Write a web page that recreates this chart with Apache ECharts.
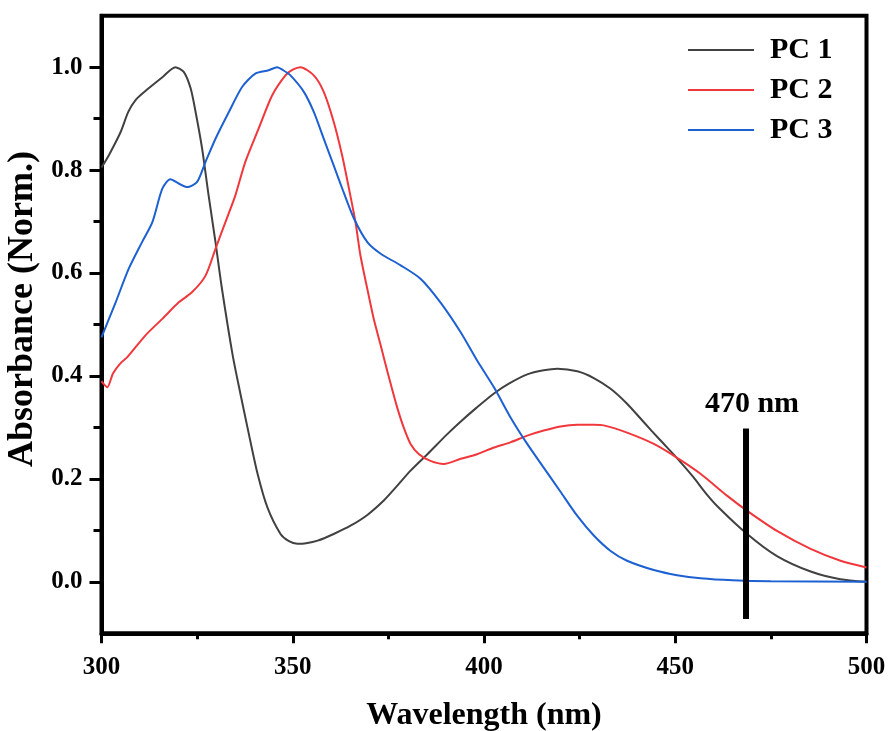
<!DOCTYPE html>
<html>
<head>
    <meta charset="utf-8">
    <title>Absorbance PC 1-3</title>
    <script src="https://cdn.jsdelivr.net/npm/echarts@6/dist/echarts.min.js"></script>
    <style>
        html, body { margin: 0; padding: 0; background: #fff; }
        #chart { width: 888px; height: 731px; }
    </style>
</head>
<body>
    <div id="chart"></div>
    <script type="text/javascript">
        // PC 1 (gray)
        const pc1Wl = [300, 302, 305, 307, 309, 312, 316, 319.3, 321.5, 323.3, 324.6, 326.3, 328, 329.8, 331.5,
            334.3, 336.3, 338.5, 340.8, 343.4, 346.8, 349, 351.2, 353.5, 356.5, 360.7, 365.1, 369.5, 373.8, 377,
            380.8, 385.2, 390.4, 394, 398, 402.6, 406.5, 411.3, 415.6, 419.2, 424.4, 428.7, 433.1, 437.4, 441.8,
            446.1, 450.5, 454.8, 457.8, 461, 468.8, 476.6, 485.4, 493.2, 500];
        const pc1Val = [0.805, 0.83, 0.874, 0.913, 0.937, 0.957, 0.981, 1.0, 0.991, 0.959, 0.913, 0.842, 0.751, 0.66, 0.569,
            0.44, 0.366, 0.288, 0.21, 0.144, 0.093, 0.079, 0.074, 0.075, 0.08, 0.093, 0.109, 0.13, 0.158, 0.184,
            0.216, 0.248, 0.287, 0.312, 0.338, 0.366, 0.385, 0.403, 0.411, 0.414, 0.409, 0.396, 0.375, 0.346, 0.31,
            0.275, 0.24, 0.203, 0.174, 0.147, 0.093, 0.05, 0.02, 0.005, 0.0];

        // PC 2 (red)
        const pc2Wl = [300, 300.5, 301.5, 303, 305, 306.8, 311.5, 315.9, 320.2, 323.7, 327.2, 329.8, 332.4, 335, 337.6,
            341.1, 344.6, 348.1, 350, 352, 355.5, 358.1, 360.7, 362.9, 364.7, 366.4, 367.7, 369.5, 371.2, 372.9,
            374.2, 375.6, 377.3, 379, 380.8, 383, 386, 389.5, 393.9, 398.2, 402.6, 406.9, 411.3, 415.6, 420,
            424.4, 428.7, 431.3, 437.4, 444.4, 450.5, 456.6, 463.6, 468.8, 476.6, 485.4, 493.2, 500];
        const pc2Val = [0.39, 0.385, 0.378, 0.405, 0.425, 0.437, 0.479, 0.511, 0.543, 0.563, 0.595, 0.647, 0.699, 0.751, 0.816,
            0.881, 0.945, 0.984, 0.995, 1.0, 0.984, 0.952, 0.894, 0.829, 0.764, 0.699, 0.634, 0.569, 0.51, 0.462,
            0.424, 0.385, 0.339, 0.3, 0.268, 0.248, 0.235, 0.229, 0.239, 0.248, 0.261, 0.271, 0.284, 0.294, 0.302,
            0.305, 0.305, 0.304, 0.29, 0.268, 0.241, 0.21, 0.167, 0.138, 0.099, 0.064, 0.041, 0.028];

        // PC 3 (blue)
        const pc3Wl = [300, 303.7, 307.1, 310.6, 313.3, 315.9, 318, 320.2, 322.4, 325, 327.2, 329.8, 333.3, 336.8, 340.3,
            343.7, 345.9, 347.5, 349.4, 352.9, 355.5, 358.1, 360.7, 363.3, 366, 369.5, 372.9, 378.2, 383.4, 388.6,
            393.9, 398.2, 402.6, 406.9, 411.3, 415.6, 420, 424.4, 428.7, 433.1, 437.4, 444.4, 450.5, 456.6, 465,
            475, 500];
        const pc3Val = [0.475, 0.543, 0.608, 0.66, 0.699, 0.764, 0.782, 0.774, 0.767, 0.777, 0.816, 0.861, 0.913, 0.962, 0.988,
            0.994, 1.0, 0.994, 0.984, 0.952, 0.913, 0.861, 0.809, 0.757, 0.706, 0.66, 0.638, 0.615, 0.589, 0.543,
            0.485, 0.43, 0.378, 0.32, 0.268, 0.222, 0.175, 0.128, 0.09, 0.06, 0.041, 0.023, 0.013, 0.007, 0.003,
            0.001, 0.0];

        // marker line at 470 nm
        const markerWl = [468.5, 468.5];
        const markerVal = [-0.072, 0.298];
        const markerText = '470 nm';

        const seriesNames = ['PC 1', 'PC 2', 'PC 3'];
        const seriesColors = ['#414141', '#f0383c', '#1d60d2'];
        const xTicks = [300, 350, 400, 450, 500];
        const yTicks = [0.0, 0.2, 0.4, 0.6, 0.8, 1.0];
        const yMinorTicks = [0.1, 0.3, 0.5, 0.7, 0.9];

        const font = 'Liberation Serif, Times New Roman, serif';

        function pairs(xs, ys) {
            return xs.map(function (x, i) { return [x, ys[i]]; });
        }

        const chart = echarts.init(document.getElementById('chart'));

        const curveData = [pairs(pc1Wl, pc1Val), pairs(pc2Wl, pc2Val), pairs(pc3Wl, pc3Val)];
        const series = curveData.map(function (d, i) {
            return {
                name: seriesNames[i],
                type: 'line',
                data: d,
                smooth: 0.25,
                showSymbol: false,
                symbol: 'none',
                lineStyle: { color: seriesColors[i], width: 2 },
                itemStyle: { color: seriesColors[i] }
            };
        });

        series.push({
            name: 'marker',
            type: 'line',
            data: pairs(markerWl, markerVal),
            showSymbol: false,
            symbol: 'none',
            lineStyle: { color: '#000', width: 6 },
            z: 5,
            markPoint: {
                symbol: 'circle',
                symbolSize: 1,
                itemStyle: { color: 'rgba(0,0,0,0)' },
                label: {
                    show: true,
                    position: 'top',
                    distance: 9,
                    offset: [6, 0],
                    formatter: markerText,
                    color: '#000',
                    fontFamily: font,
                    fontWeight: 'bold',
                    fontSize: 30
                },
                data: [{ coord: [markerWl[1], markerVal[1]] }]
            }
        });

        const option = {
            animation: false,
            backgroundColor: '#fff',
            grid: {
                left: 101.5,
                right: 21.5,
                top: 15.7,
                bottom: 97.7,
                show: true,
                borderColor: '#000',
                borderWidth: 4,
                containLabel: false,
                outerBoundsMode: 'none'
            },
            legend: {
                data: seriesNames,
                orient: 'vertical',
                left: 688,
                top: 35,
                padding: 0,
                icon: 'rect',
                itemWidth: 66,
                itemHeight: 2,
                itemGap: 10,
                textStyle: {
                    color: '#000',
                    fontFamily: font,
                    fontWeight: 'bold',
                    fontSize: 30,
                    padding: [0, 0, 0, 11]
                }
            },
            xAxis: {
                type: 'value',
                min: xTicks[0],
                max: xTicks[xTicks.length - 1],
                interval: 50,
                name: 'Wavelength (nm)',
                nameLocation: 'middle',
                nameGap: 66,
                nameTextStyle: { color: '#000', fontFamily: font, fontWeight: 'bold', fontSize: 32 },
                axisLine: { show: true, onZero: false, lineStyle: { color: '#000', width: 4 } },
                axisTick: { show: true, inside: false, length: 10, lineStyle: { color: '#000', width: 3 } },
                minorTick: { show: true, splitNumber: 2, length: 6, lineStyle: { color: '#000', width: 3 } },
                axisLabel: { color: '#000', fontFamily: font, fontWeight: 'bold', fontSize: 25, margin: 22 },
                splitLine: { show: false }
            },
            yAxis: [{
                type: 'value',
                min: -0.1,
                max: 1.1,
                name: 'Absorbance (Norm.)',
                nameLocation: 'middle',
                nameGap: 56,
                nameTextStyle: {
                    color: '#000', fontFamily: font, fontWeight: 'bold', fontSize: 36,
                    padding: [0, 0, 0, 31]
                },
                axisLine: { show: true, onZero: false, lineStyle: { color: '#000', width: 4 } },
                axisTick: { show: true, inside: false, length: 12, customValues: yTicks, lineStyle: { color: '#000', width: 3 } },
                axisLabel: {
                    color: '#000', fontFamily: font, fontWeight: 'bold', fontSize: 25, margin: 19,
                    customValues: yTicks,
                    formatter: function (v) { return v.toFixed(1); }
                },
                splitLine: { show: false }
            }, {
                // minor ticks only
                type: 'value',
                position: 'left',
                min: -0.1,
                max: 1.1,
                axisLine: { show: false, onZero: false },
                axisTick: { show: true, inside: false, length: 8, customValues: yMinorTicks, lineStyle: { color: '#000', width: 3 } },
                axisLabel: { show: false },
                splitLine: { show: false }
            }],
            series: series
        };

        chart.setOption(option);
    </script>
</body>
</html>
